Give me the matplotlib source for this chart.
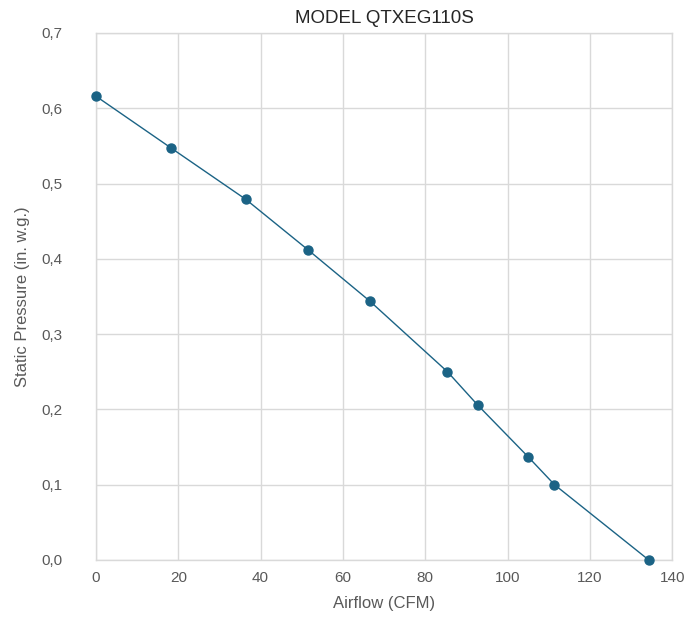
import matplotlib.pyplot as plt
from matplotlib.ticker import FuncFormatter

# Fan curve data
airflow = [0, 18.3, 36.4, 51.5, 66.5, 85.4, 92.7, 105.0, 111.4, 134.3]
pressure = [0.616, 0.547, 0.479, 0.412, 0.344, 0.250, 0.206, 0.137, 0.100, 0.0]

x_ticks = [0, 20, 40, 60, 80, 100, 120, 140]
y_ticks = [0.0, 0.1, 0.2, 0.3, 0.4, 0.5, 0.6, 0.7]

plt.rcParams['font.family'] = ['Liberation Sans', 'DejaVu Sans']

fig = plt.figure(figsize=(6.93, 6.22), dpi=100)
ax = fig.add_axes([0.1385, 0.0997, 0.8315, 0.8473])

line_color = '#1b6385'
grid_color = '#d9d9d9'
text_color = '#595959'

ax.plot(airflow, pressure, color=line_color, linewidth=1.0,
        marker='o', markersize=6.5, markerfacecolor=line_color,
        markeredgecolor=line_color, clip_on=False, zorder=3)

ax.set_xlim(0, 140)
ax.set_ylim(0, 0.7)
ax.set_xticks(x_ticks)
ax.set_yticks(y_ticks)
ax.yaxis.set_major_formatter(FuncFormatter(lambda v, p: f'{v:.1f}'.replace('.', ',')))

ax.grid(True, color=grid_color, linewidth=1.0)
ax.set_axisbelow(True)
for s in ax.spines.values():
    s.set_color(grid_color)
    s.set_linewidth(1.0)
ax.tick_params(length=0, colors=text_color, labelsize=11)
ax.tick_params(axis='x', pad=8)
ax.tick_params(axis='y', pad=24)

ax.set_title('MODEL QTXEG110S', fontsize=13.5, color='#262626', pad=7)
ax.set_xlabel('Airflow (CFM)', fontsize=12, color=text_color, labelpad=8)
ax.set_ylabel('Static Pressure (in. w.g.)', fontsize=12, color=text_color, labelpad=8)

fig.savefig('out.png', dpi=100)
